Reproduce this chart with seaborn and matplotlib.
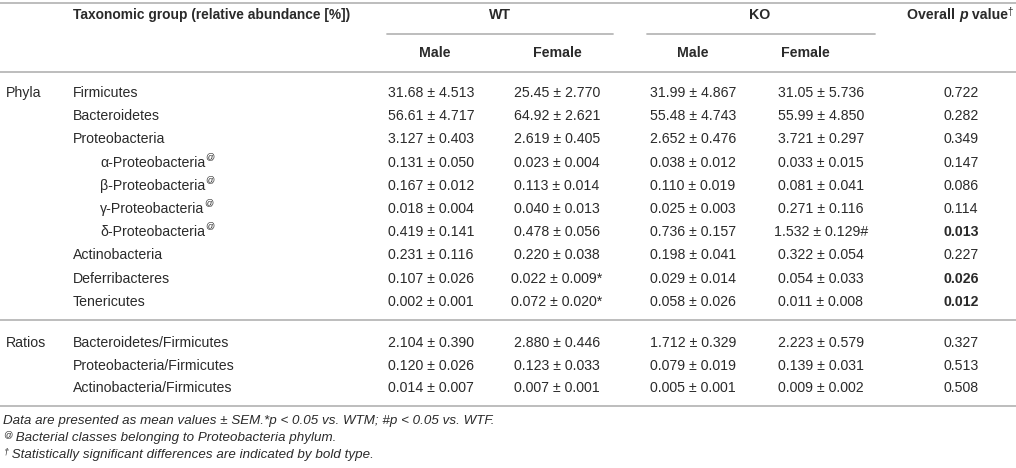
import matplotlib
matplotlib.use("Agg")
import matplotlib.pyplot as plt
import seaborn as sns

# table contents
groups = ["Phyla", "Ratios"]
taxa = ["Firmicutes", "Bacteroidetes", "Proteobacteria",
        "α-Proteobacteria", "β-Proteobacteria", "γ-Proteobacteria", "δ-Proteobacteria",
        "Actinobacteria", "Deferribacteres", "Tenericutes"]
sub_taxa = [False, False, False, True, True, True, True, False, False, False]
ratios = ["Bacteroidetes/Firmicutes", "Proteobacteria/Firmicutes", "Actinobacteria/Firmicutes"]

wt_male = ["31.68 ± 4.513", "56.61 ± 4.717", "3.127 ± 0.403", "0.131 ± 0.050", "0.167 ± 0.012",
           "0.018 ± 0.004", "0.419 ± 0.141", "0.231 ± 0.116", "0.107 ± 0.026", "0.002 ± 0.001",
           "2.104 ± 0.390", "0.120 ± 0.026", "0.014 ± 0.007"]
wt_female = ["25.45 ± 2.770", "64.92 ± 2.621", "2.619 ± 0.405", "0.023 ± 0.004", "0.113 ± 0.014",
             "0.040 ± 0.013", "0.478 ± 0.056", "0.220 ± 0.038", "0.022 ± 0.009*", "0.072 ± 0.020*",
             "2.880 ± 0.446", "0.123 ± 0.033", "0.007 ± 0.001"]
ko_male = ["31.99 ± 4.867", "55.48 ± 4.743", "2.652 ± 0.476", "0.038 ± 0.012", "0.110 ± 0.019",
           "0.025 ± 0.003", "0.736 ± 0.157", "0.198 ± 0.041", "0.029 ± 0.014", "0.058 ± 0.026",
           "1.712 ± 0.329", "0.079 ± 0.019", "0.005 ± 0.001"]
ko_female = ["31.05 ± 5.736", "55.99 ± 4.850", "3.721 ± 0.297", "0.033 ± 0.015", "0.081 ± 0.041",
             "0.271 ± 0.116", "1.532 ± 0.129#", "0.322 ± 0.054", "0.054 ± 0.033", "0.011 ± 0.008",
             "2.223 ± 0.579", "0.139 ± 0.031", "0.009 ± 0.002"]
p_values = [0.722, 0.282, 0.349, 0.147, 0.086, 0.114, 0.013, 0.227, 0.026, 0.012, 0.327, 0.513, 0.508]

footnotes = ["Data are presented as mean values ± SEM.*p < 0.05 vs. WTM; #p < 0.05 vs. WTF.",
             "Bacterial classes belonging to Proteobacteria phylum.",
             "Statistically significant differences are indicated by bold type."]
foot_marks = ["", "@", "†"]

sns.set_theme(style="white")
plt.rcParams["font.family"] = ["Liberation Sans", "DejaVu Sans"]

TXT = "#2a2a2a"
RULE = "#b8b8b8"
FS = 10.2
FN = 9.6

fig = plt.figure(figsize=(10.16, 4.68), dpi=100)
ax = fig.add_axes([0, 0, 1, 1])
ax.set_xlim(0, 1016)
ax.set_ylim(468, 0)
ax.axis("off")

col_x = [431, 557, 693, 821, 961]

# rules
for y in [3, 72, 320, 406]:
    ax.plot([0, 1016], [y, y], color=RULE, lw=1.3, solid_capstyle="butt")
ax.plot([387, 613], [34, 34], color=RULE, lw=1.3)
ax.plot([647, 875], [34, 34], color=RULE, lw=1.3)

# header
hy1, hy2 = 15, 53
ax.text(73, hy1, "Taxonomic group (relative abundance [%])", fontsize=FS - 0.3, fontweight="bold",
        color=TXT, va="center", ha="left")
ax.text(500, hy1, "WT", fontsize=FS, fontweight="bold", color=TXT, va="center", ha="center")
ax.text(760, hy1, "KO", fontsize=FS, fontweight="bold", color=TXT, va="center", ha="center")
t1 = ax.text(907, hy1, "Overall ", fontsize=FS, fontweight="bold", color=TXT, va="center", ha="left")
t2 = ax.annotate("p", xy=(1, 0), xycoords=t1, fontsize=FS, fontweight="bold", style="italic",
                 color=TXT, va="bottom", ha="left")
t3 = ax.annotate(" value", xy=(1, 0), xycoords=t2, fontsize=FS, fontweight="bold",
                 color=TXT, va="bottom", ha="left")
ax.annotate("†", xy=(1, 0.35), xycoords=t3, fontsize=7, color=TXT, va="bottom", ha="left")
for x, lab in zip([435, 557, 693, 805], ["Male", "Female", "Male", "Female"]):
    ax.text(x, hy2, lab, fontsize=FS, fontweight="bold", color=TXT, va="center", ha="center")

# body rows
row_y = [93 + 23.2 * i for i in range(len(taxa))] + [343 + 22.6 * i for i in range(len(ratios))]
labels = taxa + ratios
indent = sub_taxa + [False] * len(ratios)
ax.text(6, row_y[0], groups[0], fontsize=FS, color=TXT, va="center", ha="left")
ax.text(6, row_y[len(taxa)], groups[1], fontsize=FS, color=TXT, va="center", ha="left")

for i, y in enumerate(row_y):
    t = ax.text(100 if indent[i] else 73, y, labels[i], fontsize=FS, color=TXT,
                va="center", ha="left")
    if indent[i]:
        ax.annotate("@", xy=(1, 0.62), xycoords=t, xytext=(0.3, 0), textcoords="offset points",
                    fontsize=6.5, color=TXT, va="bottom", ha="left")
    for x, col in zip(col_x[:4], [wt_male, wt_female, ko_male, ko_female]):
        ax.text(x, y, col[i], fontsize=FS, color=TXT, va="center", ha="center")
    p = p_values[i]
    ax.text(col_x[4], y, f"{p:.3f}", fontsize=FS, color=TXT, va="center", ha="center",
            fontweight="bold" if p < 0.05 else "normal")

# footnotes
for j, (mark, note) in enumerate(zip(foot_marks, footnotes)):
    y = 421 + 17 * j
    if mark:
        m = ax.text(3, y - 3, mark, fontsize=6.5, color=TXT, va="center", ha="left", style="italic")
        ax.annotate(" " + note, xy=(1, 0), xycoords=m, xytext=(0, -3), textcoords="offset points",
                    fontsize=FN, style="italic", color=TXT, va="bottom", ha="left")
    else:
        ax.text(3, y, note, fontsize=FN, style="italic", color=TXT, va="center", ha="left")

fig.savefig("out.png", dpi=100)
